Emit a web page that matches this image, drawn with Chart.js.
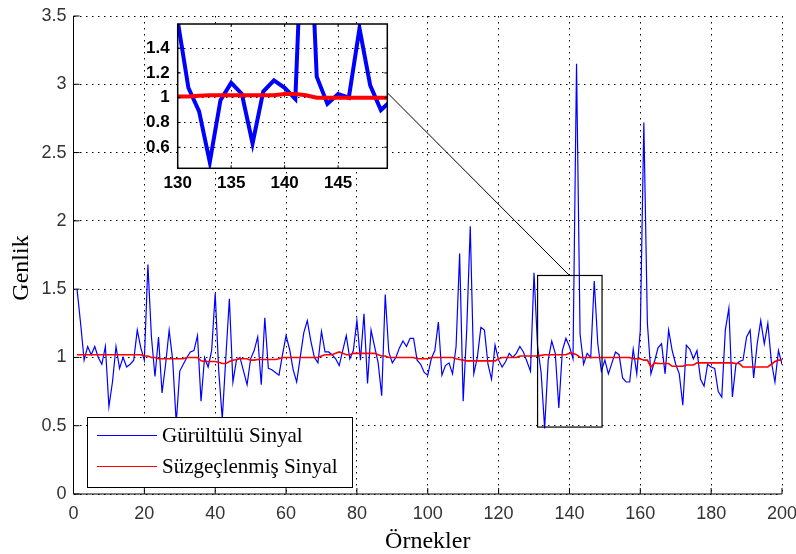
<!DOCTYPE html>
<html>
<head>
<meta charset="utf-8">
<script src="https://cdn.jsdelivr.net/npm/chart.js@4.4.1/dist/chart.umd.min.js"></script>
<style>
  html, body { margin: 0; padding: 0; background: #fff; }
  #wrap { position: relative; width: 796px; height: 554px; overflow: hidden; }
  #main { position: absolute; left: 0; top: 0; }
  #zoom { position: absolute; left: 130px; top: 10px; }
</style>
</head>
<body>
<div id="wrap">
  <canvas id="main" width="796" height="554"></canvas>
  <canvas id="zoom" width="270" height="190"></canvas>
</div>
<script>
// Noisy input signal, samples 1..200
const noisy = [
  1.50, 1.25, 0.98, 1.08, 1.02, 1.08, 1.00, 0.95, 1.08, 0.64,
  0.82, 1.08, 0.92, 1.00, 0.93, 0.95, 0.98, 1.20, 1.07, 0.98,
  1.68, 1.15, 0.86, 1.15, 0.74, 0.95, 1.20, 0.98, 0.52, 0.90,
  0.95, 1.00, 1.04, 1.05, 1.16, 0.68, 1.00, 0.93, 1.05, 1.47,
  0.90, 0.55, 1.00, 1.43, 0.82, 0.98, 1.00, 0.90, 0.80, 0.99,
  1.05, 1.15, 0.80, 1.29, 0.92, 0.91, 0.89, 0.87, 1.02, 1.16,
  1.06, 0.91, 0.82, 1.00, 1.18, 1.27, 1.12, 1.00, 0.96, 1.19,
  1.04, 1.04, 1.02, 0.99, 0.94, 1.05, 1.16, 0.99, 1.05, 1.27,
  0.98, 1.32, 0.81, 1.20, 1.08, 0.96, 0.72, 1.46, 1.04, 0.96,
  1.00, 1.07, 1.12, 1.08, 1.14, 1.14, 0.98, 0.95, 0.89, 0.87,
  0.99, 1.05, 1.26, 0.87, 0.94, 0.96, 0.88, 1.08, 1.76, 0.68,
  1.20, 1.96, 0.88, 1.00, 1.22, 1.20, 0.95, 0.84, 1.09, 0.98,
  0.93, 0.97, 1.03, 1.00, 1.03, 1.08, 1.04, 0.97, 0.90, 1.62,
  1.08, 0.89, 0.48, 0.98, 1.12, 1.03, 0.63, 1.05, 1.14, 1.08,
  0.99, 3.15, 1.17, 0.95, 1.03, 1.00, 1.56, 1.10, 0.90, 0.98,
  0.88, 0.96, 1.04, 1.02, 0.85, 0.82, 0.82, 1.06, 0.88, 1.20,
  2.72, 1.25, 0.88, 0.97, 1.07, 1.10, 0.88, 1.20, 1.05, 0.95,
  0.88, 0.65, 1.09, 1.06, 0.99, 1.05, 0.84, 0.79, 0.95, 0.93,
  0.92, 0.75, 0.71, 1.20, 1.36, 0.71, 0.95, 0.97, 0.98, 1.15,
  1.20, 0.85, 1.10, 1.27, 1.10, 1.25, 0.97, 0.82, 1.05, 0.95
];

// Filter output, samples 1..200
const filtered = [
  1.02, 1.02, 1.02, 1.02, 1.02, 1.02, 1.02, 1.02, 1.02, 1.02,
  1.02, 1.02, 1.02, 1.02, 1.02, 1.02, 1.02, 1.02, 1.02, 1.01,
  1.01, 1.00, 1.00, 0.99, 0.99, 0.99, 0.99, 0.99, 0.99, 0.99,
  0.99, 1.00, 1.00, 1.00, 1.00, 0.975, 0.97, 0.97, 0.97, 0.97,
  0.965, 0.955, 0.955, 0.97, 0.98, 0.985, 0.99, 0.99, 0.99, 0.98,
  0.98, 0.985, 0.985, 0.985, 0.985, 0.985, 0.985, 0.99, 1.00, 1.00,
  1.00, 1.00, 1.00, 1.00, 1.00, 1.00, 1.00, 1.00, 1.00, 1.01,
  1.02, 1.02, 1.02, 1.03, 1.04, 1.03, 1.02, 1.02, 1.03, 1.03,
  1.03, 1.03, 1.03, 1.03, 1.03, 1.02, 1.01, 1.01, 1.00, 1.00,
  1.00, 1.00, 1.00, 1.00, 1.00, 1.00, 0.99, 0.99, 0.99, 0.99,
  1.00, 1.00, 1.00, 1.00, 1.00, 1.00, 1.00, 0.99, 0.985, 0.98,
  0.975, 0.975, 0.975, 0.975, 0.975, 0.975, 0.975, 0.975, 0.975, 0.99,
  1.00, 1.00, 1.00, 1.00, 1.00, 1.01, 1.01, 1.01, 1.01, 1.01,
  1.01, 1.015, 1.02, 1.02, 1.02, 1.02, 1.02, 1.02, 1.02, 1.03,
  1.03, 1.02, 1.00, 1.00, 1.00, 1.00, 1.00, 1.00, 1.00, 1.00,
  1.00, 1.00, 1.00, 1.00, 1.00, 1.00, 1.00, 0.99, 0.99, 0.99,
  0.98, 0.98, 0.93, 0.96, 0.955, 0.955, 0.955, 0.955, 0.935, 0.935,
  0.935, 0.935, 0.945, 0.945, 0.945, 0.96, 0.96, 0.96, 0.96, 0.96,
  0.96, 0.96, 0.96, 0.96, 0.96, 0.96, 0.955, 0.955, 0.93, 0.93,
  0.93, 0.93, 0.93, 0.93, 0.93, 0.93, 0.95, 0.97, 0.98, 0.98
];

const seriesNames = ['Gürültülü Sinyal', 'Süzgeçlenmiş Sinyal'];
const seriesColors = ['#0000ff', '#ff0000'];
const xTitle = 'Örnekler';
const yTitle = 'Genlik';

// main axes limits and tick spacing
const mainX = { min: 0, max: 200, step: 20 };
const mainY = { min: 0, max: 3.5, step: 0.5 };

// magnified region: inset axes limits and the marked box in the main axes
const zoomX = { min: 130, max: 149.6, step: 5 };
const zoomY = { min: 0.43, max: 1.595, step: 0.2 };
const zoomBox = { x0: 131, x1: 149.2, y0: 0.49, y1: 1.6 };
// connector: from the inset's right edge to the box's top edge
const linkFrom = { y: 1.04 };
const linkTo = { x: 140, y: 1.6 };

const sans = "'Liberation Sans', Arial, Helvetica, sans-serif";
const serif = "'Liberation Serif', 'Times New Roman', serif";

const toPoints = arr => arr.map((v, i) => ({ x: i + 1, y: v }));

function makeDatasets(width) {
  return [
    { label: seriesNames[1], data: toPoints(filtered), borderColor: seriesColors[1],
      borderWidth: width.red, pointRadius: 0, tension: 0, order: 0 },
    { label: seriesNames[0], data: toPoints(noisy), borderColor: seriesColors[0],
      borderWidth: width.blue, pointRadius: 0, tension: 0, order: 1 }
  ];
}

const dottedGrid = { color: '#000', lineWidth: 1, drawTicks: false };
const dottedBorder = { display: false, dash: [1.5, 4.5] };
const noSidePad = s => { s.paddingLeft = 0; s.paddingRight = 0; s.paddingTop = 0; s.paddingBottom = 0; };

// ---------- inset ----------
const zoomDecor = {
  id: 'zoomDecor',
  beforeDraw(chart) {
    const { ctx, chartArea: a } = chart;
    ctx.save();
    ctx.fillStyle = '#fff';
    ctx.fillRect(a.left, a.top, a.right - a.left, a.bottom - a.top);
    ctx.restore();
  },
  afterDatasetsDraw(chart) {
    const { ctx, chartArea: a, scales: { x, y } } = chart;
    ctx.save();
    ctx.strokeStyle = '#000';
    ctx.lineWidth = 1.5;
    ctx.strokeRect(a.left, a.top, a.right - a.left, a.bottom - a.top);
    ctx.lineWidth = 1;
    ctx.beginPath();
    x.ticks.forEach(t => {
      const px = x.getPixelForValue(t.value);
      ctx.moveTo(px, a.bottom); ctx.lineTo(px, a.bottom - 3);
      ctx.moveTo(px, a.top); ctx.lineTo(px, a.top + 3);
    });
    y.ticks.forEach(t => {
      const py = y.getPixelForValue(t.value);
      ctx.moveTo(a.left, py); ctx.lineTo(a.left + 3, py);
      ctx.moveTo(a.right, py); ctx.lineTo(a.right - 3, py);
    });
    ctx.stroke();
    ctx.restore();
  }
};

const zoomChart = new Chart(document.getElementById('zoom'), {
  type: 'line',
  data: { datasets: makeDatasets({ blue: 4, red: 4 }) },
  options: {
    responsive: false,
    animation: false,
    devicePixelRatio: 1,
    layout: { padding: { left: 0, top: 14, right: 12.7, bottom: 0 } },
    plugins: { legend: { display: false }, tooltip: { enabled: false } },
    scales: {
      x: {
        type: 'linear', min: zoomX.min, max: zoomX.max,
        ticks: { stepSize: zoomX.step, includeBounds: false, padding: 5,
                 color: '#000', font: { family: sans, size: 17, weight: 'bold' },
                 maxRotation: 0 },
        grid: dottedGrid, border: dottedBorder,
        afterFit: s => { s.height = 31.7; noSidePad(s); }
      },
      y: {
        min: zoomY.min, max: zoomY.max,
        ticks: { stepSize: zoomY.step, includeBounds: false, padding: 8,
                 color: '#000', font: { family: sans, size: 17, weight: 'bold' },
                 callback: v => String(Math.round(v * 10) / 10) },
        grid: dottedGrid, border: dottedBorder,
        afterFit: s => { s.width = 47.7; noSidePad(s); }
      }
    }
  },
  plugins: [zoomDecor]
});

// ---------- main ----------
const zoomCanvas = document.getElementById('zoom');

const mainDecor = {
  id: 'mainDecor',
  beforeDraw(chart) {
    const { ctx, width, height } = chart;
    ctx.save();
    ctx.fillStyle = '#fff';
    ctx.fillRect(0, 0, width, height);
    ctx.restore();
  },
  afterDatasetsDraw(chart) {
    const { ctx, chartArea: a, scales: { x, y } } = chart;
    ctx.save();

    // axis lines with inward ticks
    ctx.strokeStyle = '#000';
    ctx.lineWidth = 1;
    ctx.beginPath();
    ctx.moveTo(a.left, a.top);
    ctx.lineTo(a.left, a.bottom);
    ctx.lineTo(a.right, a.bottom);
    x.ticks.forEach(t => {
      const px = x.getPixelForValue(t.value);
      ctx.moveTo(px, a.bottom); ctx.lineTo(px, a.bottom - 6);
    });
    y.ticks.forEach(t => {
      const py = y.getPixelForValue(t.value);
      ctx.moveTo(a.left, py); ctx.lineTo(a.left + 6, py);
    });
    ctx.stroke();

    // box around the magnified region
    const bx0 = x.getPixelForValue(zoomBox.x0), bx1 = x.getPixelForValue(zoomBox.x1);
    const by0 = y.getPixelForValue(zoomBox.y0), by1 = y.getPixelForValue(zoomBox.y1);
    ctx.strokeStyle = '#000';
    ctx.lineWidth = 1.2;
    ctx.strokeRect(bx0, by1, bx1 - bx0, by0 - by1);

    // connector from inset to box
    const zx = zoomChart.scales.x, zy = zoomChart.scales.y;
    const fromX = zoomCanvas.offsetLeft + zx.getPixelForValue(zoomX.max);
    const fromY = zoomCanvas.offsetTop + zy.getPixelForValue(linkFrom.y);
    ctx.lineWidth = 1;
    ctx.beginPath();
    ctx.moveTo(fromX, fromY);
    ctx.lineTo(x.getPixelForValue(linkTo.x), y.getPixelForValue(linkTo.y));
    ctx.stroke();

    // legend
    const L = { left: 87, top: 417, right: 352, bottom: 487 };
    ctx.fillStyle = '#fff';
    ctx.fillRect(L.left, L.top, L.right - L.left, L.bottom - L.top);
    ctx.lineWidth = 1;
    ctx.strokeStyle = '#000';
    ctx.strokeRect(L.left + 0.5, L.top + 0.5, L.right - L.left, L.bottom - L.top);
    const rows = [
      { y: 435.5, name: seriesNames[0], color: seriesColors[0] },
      { y: 466.5, name: seriesNames[1], color: seriesColors[1] }
    ];
    ctx.font = '21px ' + serif;
    ctx.textBaseline = 'middle';
    ctx.textAlign = 'left';
    rows.forEach(r => {
      ctx.strokeStyle = r.color;
      ctx.lineWidth = 1;
      ctx.beginPath();
      ctx.moveTo(97, r.y); ctx.lineTo(157, r.y);
      ctx.stroke();
      ctx.fillStyle = '#000';
      ctx.fillText(r.name, 162, r.y + 1);
    });

    // axis titles
    ctx.fillStyle = '#000';
    ctx.font = '24px ' + serif;
    ctx.textAlign = 'center';
    ctx.textBaseline = 'middle';
    ctx.fillText(xTitle, (a.left + a.right) / 2, 542);
    ctx.save();
    ctx.translate(22, 268);
    ctx.rotate(-Math.PI / 2);
    ctx.fillText(yTitle, 0, 0);
    ctx.restore();

    ctx.restore();
  }
};

new Chart(document.getElementById('main'), {
  type: 'line',
  data: { datasets: makeDatasets({ blue: 1.2, red: 1.6 }) },
  options: {
    responsive: false,
    animation: false,
    devicePixelRatio: 1,
    layout: { padding: { left: 0, top: 16, right: 14, bottom: 0 } },
    plugins: { legend: { display: false }, tooltip: { enabled: false } },
    scales: {
      x: {
        type: 'linear', min: mainX.min, max: mainX.max,
        ticks: { stepSize: mainX.step, padding: 9, color: '#333',
                 font: { family: sans, size: 18 }, maxRotation: 0 },
        grid: dottedGrid, border: dottedBorder,
        afterFit: s => { s.height = 60; noSidePad(s); }
      },
      y: {
        min: mainY.min, max: mainY.max,
        ticks: { stepSize: mainY.step, padding: 7, color: '#333',
                 font: { family: sans, size: 18 },
                 callback: v => String(v) },
        grid: dottedGrid, border: dottedBorder,
        afterFit: s => { s.width = 73.5; noSidePad(s); }
      }
    }
  },
  plugins: [mainDecor]
});
</script>
</body>
</html>
